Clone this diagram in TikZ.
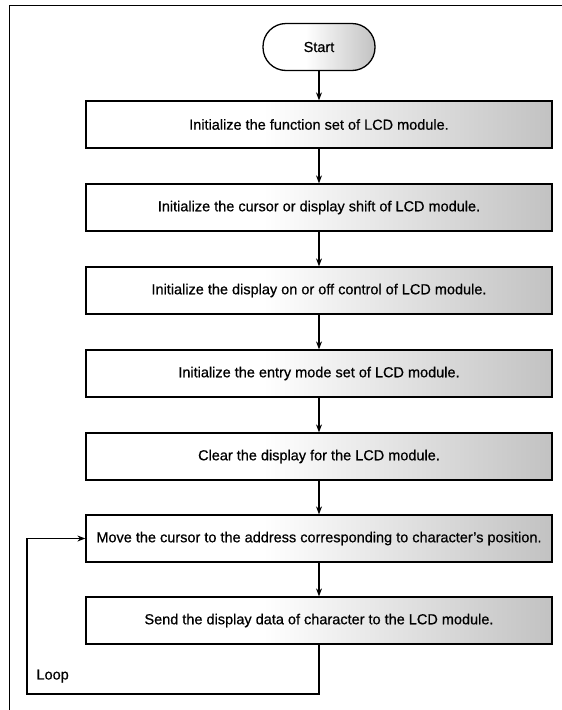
\documentclass[tikz,border=0pt]{standalone}
\usepackage{fontspec}
\setmainfont[FakeBold=0.6]{Liberation Sans}
\usetikzlibrary{arrows.meta}
% white on the left half, fading into a light grey stipple towards the right
\pgfdeclarehorizontalshading{stipple}{100bp}{color(0bp)=(white); color(25bp)=(white); color(44bp)=(white); color(75bp)=(black!24); color(100bp)=(black!24)}

\begin{document}
\begin{tikzpicture}[x=1pt,y=-1pt,
  txt/.style={font=\fontsize{14.5}{17}\selectfont},
  stepbox/.style={draw, line width=1.3pt, shade, shading=stipple, minimum width=466pt, minimum height=47pt, inner sep=0pt, txt},
  startbox/.style={draw, line width=1.3pt, shade, shading=stipple, rounded corners=23pt, minimum width=112pt, minimum height=47pt, inner sep=0pt, txt},
  flow/.style={line width=1.1pt, -{Stealth[length=8pt,width=6pt]}}]
\useasboundingbox (0,0) rectangle (562,710);

% outer frame
\draw[line width=1pt] (9,710) -- (9,5) -- (562,5);

% start terminal and the seven steps
\node[startbox] (s) at (319,47) {Start};
\node[stepbox] (b1) at (319,124.5) {Initialize the function set of LCD module.};
\node[stepbox] (b2) at (319,207.5) {Initialize the cursor or display shift of LCD module.};
\node[stepbox] (b3) at (319,290.5) {Initialize the display on or off control of LCD module.};
\node[stepbox] (b4) at (319,373.5) {Initialize the entry mode set of LCD module.};
\node[stepbox] (b5) at (319,456.5) {Clear the display for the LCD module.};
\node[stepbox] (b6) at (319,538.5) {Move the cursor to the address corresponding to character's position.};
\node[stepbox] (b7) at (319,620.5) {Send the display data of character to the LCD module.};

% straight flow
\draw[flow] (s) -- (b1);
\draw[flow] (b1) -- (b2);
\draw[flow] (b2) -- (b3);
\draw[flow] (b3) -- (b4);
\draw[flow] (b4) -- (b5);
\draw[flow] (b5) -- (b6);
\draw[flow] (b6) -- (b7);

% loop back
\coordinate (lp) at (27,694);
\draw[flow] (b7.south) |- (lp) |- (b6.west);
\node[txt, anchor=west] (looplbl) at (33,676) {Loop};
\end{tikzpicture}
\end{document}
